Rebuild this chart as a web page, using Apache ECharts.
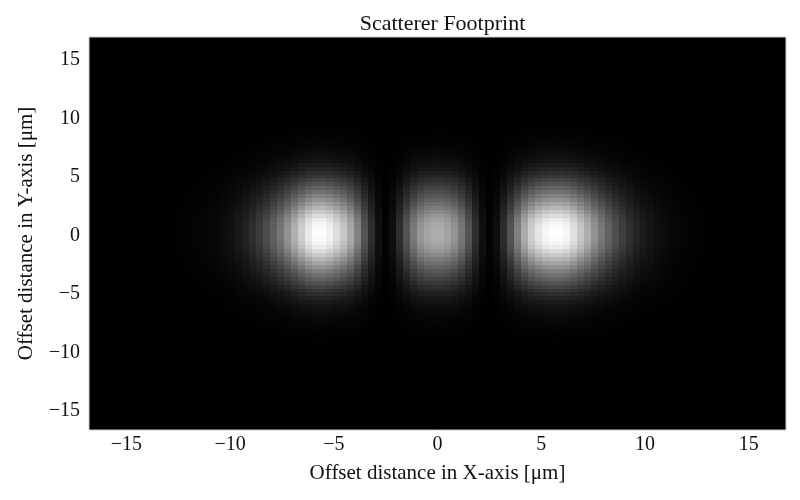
<!DOCTYPE html>
<html>
<head>
<meta charset="utf-8">
<script src="https://cdn.jsdelivr.net/npm/echarts@6/dist/echarts.min.js"></script>
<style>html,body{margin:0;padding:0;background:#fff}#c{width:800px;height:500px}</style>
</head>
<body>
<div id="c"></div>
<script>
// Gray level (0-255) read along the row at y = 0, one entry per image column, left to right.
const xProfile = [
0,0,0,0,0,0,0,0,0,0,1,1,1,2,3,4,5,7,9,13,
18,25,34,46,60,76,96,118,146,176,206,234,252,254,242,222,200,170,130,84,
46,16,3,15,46,84,122,150,166,173,173,164,148,120,84,46,16,3,14,44,
84,128,172,206,230,246,254,254,246,226,200,174,146,120,98,78,62,48,36,27,
21,15,11,8,6,4,3,2,1,1,0,0,0,0,0,0,0,0,0,0];
// Relative brightness read along a column through the left lobe, one entry per image row, bottom to top.
const yLower = [
0,0,0,0,0,0,0,0,0,0,0,0,0,0,0,0,0,0,0,0,
.001,.002,.004,.006,.009,.014,.02,.027,.037,.05,.065,.085,.11,.14,.18,.22,.27,.33,.39,.45,
.51,.58,.65,.72,.80,.87,.93,.97,.99,1];
const yUpper = [
1,.99,.97,.93,.87,.80,.72,.65,.58,.51,.45,.39,.33,.27,.22,.18,.14,.11,.085,.065,
.05,.037,.027,.02,.014,.009,.006,.004,.002,.001,
0,0,0,0,0,0,0,0,0,0,0,0,0,0,0,0,0,0,0,0];
const tickValues = [-15,-10,-5,0,5,10,15];
const titleText = 'Scatterer Footprint';
const xName = 'Offset distance in X-axis [μm]';
const yName = 'Offset distance in Y-axis [μm]';
const extent = 16.8;

const yProfile = yLower.concat(yUpper);
const nx = xProfile.length, ny = yProfile.length;
const dx = 2 * extent / nx, dy = 2 * extent / ny;
const cells = [];
for (let j = 0; j < ny; j++) {
  for (let i = 0; i < nx; i++) {
    const v = Math.round(xProfile[i] * yProfile[j]);
    if (v > 0) cells.push([-extent + dx * (i + .5), -extent + dy * (j + .5), v]);
  }
}
const serif = '"Liberation Serif", "DejaVu Serif", serif';
const fmt = v => String(v).replace('-', '\u2212');
function axis(name, gap, labelExtra) {
  return {
    type: 'value', min: -extent, max: extent,
    name: name, nameLocation: 'middle', nameGap: gap,
    nameTextStyle: { fontFamily: serif, fontSize: 21, color: '#111' },
    splitLine: { show: false },
    axisLine: { show: false },
    axisTick: { show: false },
    axisLabel: Object.assign({ customValues: tickValues, formatter: fmt, fontFamily: serif, fontSize: 20, color: '#111', showMinLabel: true, showMaxLabel: true }, labelExtra)
  };
}
const chart = echarts.init(document.getElementById('c'), null, { renderer: 'canvas' });
chart.setOption({
  animation: false,
  backgroundColor: '#fff',
  title: { text: titleText, left: 437.5, top: 8, textAlign: 'center', textStyle: { fontFamily: serif, fontWeight: 'normal', fontSize: 22, color: '#111' } },
  grid: { left: 89, right: 14, top: 37, bottom: 70, show: true, backgroundColor: '#000', borderColor: '#ccc', borderWidth: 1 },
  xAxis: axis(xName, 33, { margin: 5 }),
  yAxis: axis(yName, 52, { margin: 9, verticalAlign: 'top', lineHeight: 4 }),
  series: [{
    type: 'custom',
    coordinateSystem: 'cartesian2d',
    clip: true,
    silent: true,
    encode: { x: 0, y: 1 },
    data: cells,
    renderItem: function (params, api) {
      const x = api.value(0), y = api.value(1), v = api.value(2);
      const a = api.coord([x - dx / 2, y + dy / 2]);
      const b = api.coord([x + dx / 2, y - dy / 2]);
      const x0 = Math.round(a[0]), y0 = Math.round(a[1]);
      return {
        type: 'rect',
        shape: { x: x0, y: y0, width: Math.round(b[0]) - x0, height: Math.round(b[1]) - y0 },
        style: { fill: 'rgb(' + v + ',' + v + ',' + v + ')' }
      };
    }
  }]
});
</script>
</body>
</html>
